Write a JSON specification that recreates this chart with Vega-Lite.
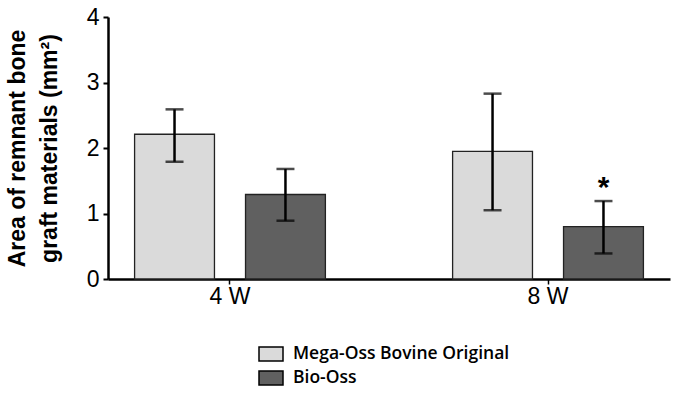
{
  "$schema": "https://vega.github.io/schema/vega-lite/v6.json",
  "width": 562,
  "height": 262,
  "autosize": "none",
  "padding": {"left": 108, "top": 17, "right": 7, "bottom": 128},
  "background": "white",
  "config": {"view": {"stroke": null}},
  "data": {
    "values": [
      {"week": "4 W", "material": "Mega-Oss Bovine Original", "mean": 2.21, "lo": 1.79, "hi": 2.59, "sig": ""},
      {"week": "4 W", "material": "Bio-Oss", "mean": 1.29, "lo": 0.89, "hi": 1.68, "sig": ""},
      {"week": "8 W", "material": "Mega-Oss Bovine Original", "mean": 1.95, "lo": 1.05, "hi": 2.83, "sig": ""},
      {"week": "8 W", "material": "Bio-Oss", "mean": 0.80, "lo": 0.39, "hi": 1.19, "sig": "*"}
    ]
  },
  "encoding": {
    "x": {
      "field": "week", "type": "nominal",
      "scale": {"paddingInner": 0.4, "paddingOuter": 0.0836},
      "axis": {
        "title": null, "labelAngle": 0, "labelFont": "Liberation Sans", "labelFontSize": 23,
        "labelColor": "black", "domainColor": "black", "domainWidth": 2.5,
        "tickColor": "black", "tickWidth": 1.5, "tickSize": 5, "labelPadding": 1
      }
    },
    "xOffset": {
      "field": "material", "type": "nominal",
      "sort": ["Mega-Oss Bovine Original", "Bio-Oss"],
      "scale": {"paddingInner": 0.28, "paddingOuter": 0}
    }
  },
  "layer": [
    {
      "mark": {"type": "bar", "stroke": "#222", "strokeWidth": 1.3},
      "encoding": {
        "y": {
          "field": "mean", "type": "quantitative",
          "scale": {"domain": [0, 4], "nice": false},
          "axis": {
            "values": [0, 1, 2, 3, 4], "format": "d", "grid": false,
            "title": ["Area of remnant bone", "graft materials (mm²)"],
            "titleFont": "Liberation Sans", "titleFontSize": 23, "titleFontWeight": "bold",
            "titleLineHeight": 32, "titleColor": "black", "titlePadding": 25,
            "labelFont": "Liberation Sans", "labelFontSize": 23, "labelColor": "black",
            "labelPadding": 4, "domainColor": "black", "domainWidth": 2.5,
            "tickColor": "black", "tickWidth": 2, "tickSize": 5
          }
        },
        "fill": {
          "field": "material", "type": "nominal",
          "sort": ["Mega-Oss Bovine Original", "Bio-Oss"],
          "scale": {"domain": ["Mega-Oss Bovine Original", "Bio-Oss"], "range": ["#dadada", "#606060"]},
          "legend": {
            "title": null, "orient": "none", "legendX": 150, "legendY": 324,
            "direction": "vertical",
            "symbolType": "M-1,-0.58H1V0.58H-1Z", "symbolSize": 576,
            "symbolStrokeColor": "black", "symbolStrokeWidth": 1.5,
            "labelFont": "Open Sans", "labelFontSize": 17.5, "labelFontWeight": 600,
            "labelColor": "black", "labelOffset": 9, "rowPadding": 1, "labelLimit": 0
          }
        }
      }
    },
    {
      "mark": {"type": "rule", "color": "black", "strokeWidth": 2.5},
      "encoding": {
        "y": {"field": "lo", "type": "quantitative"},
        "y2": {"field": "hi"}
      }
    },
    {
      "mark": {"type": "tick", "color": "black", "size": 18, "thickness": 2.5},
      "encoding": {
        "y": {"field": "hi", "type": "quantitative"}
      }
    },
    {
      "mark": {"type": "tick", "color": "black", "size": 18, "thickness": 2.5},
      "encoding": {
        "y": {"field": "lo", "type": "quantitative"}
      }
    },
    {
      "mark": {"type": "text", "font": "Liberation Sans", "fontWeight": "bold", "fontSize": 30, "baseline": "alphabetic", "dy": -4, "color": "black"},
      "encoding": {
        "y": {"field": "hi", "type": "quantitative"},
        "text": {"field": "sig"}
      }
    }
  ]
}
